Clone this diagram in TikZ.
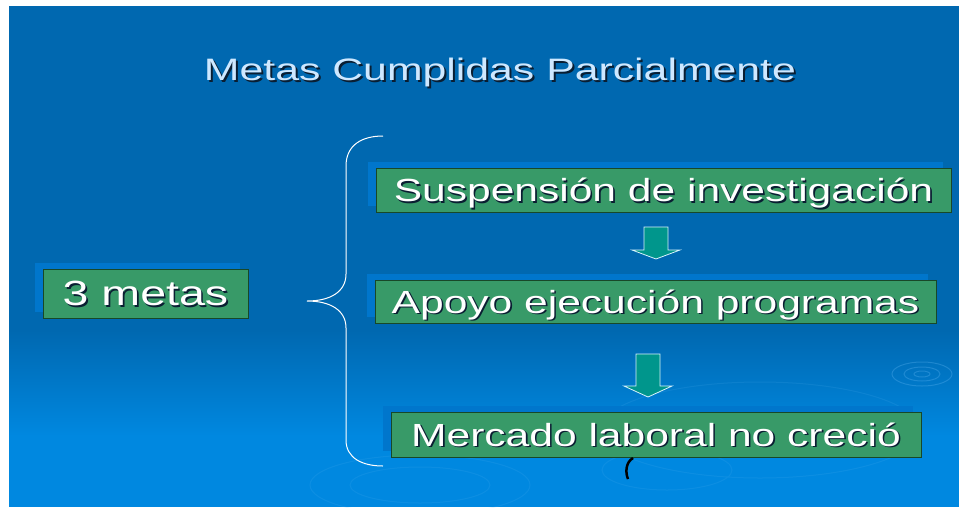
\documentclass[tikz,border=0pt]{standalone}
\usepackage{fontspec}
\usetikzlibrary{shadows}
\newfontfamily\slidefont[FakeStretch=1.33]{Liberation Sans}
\newfontfamily\slidetitlefont[FakeStretch=1.38]{Liberation Sans}
\definecolor{bgtop}{RGB}{0,104,176}
\definecolor{bgbottom}{RGB}{0,136,224}
\definecolor{boxgreen}{RGB}{56,154,104}
\definecolor{boxedge}{RGB}{24,72,40}
\definecolor{boxshade}{RGB}{0,118,204}
\definecolor{arrowteal}{RGB}{0,150,140}
\definecolor{titleblue}{RGB}{206,232,255}
\definecolor{txtshade}{RGB}{10,30,50}
\definecolor{ripplec}{RGB}{100,185,245}
\newcommand{\shtxt}[1]{\rlap{\kern1.6pt\raisebox{-1.6pt}{\color{txtshade}#1}}#1}
\tikzset{
    goal/.style = {draw = boxedge, line width = 0.9pt, fill = boxgreen, text = white,
        inner sep = 0pt, text height = 23pt, text depth = 0pt,
        font = \slidefont\fontsize{32}{38}\selectfont,
        general shadow = {draw = none, fill = boxshade, shadow xshift = -8.5pt, shadow yshift = 6.5pt}},
    blockarrow/.style = {fill = arrowteal, draw = white!85!cyan, line width = 0.8pt, line join = miter},
    brace/.style = {draw = white, line width = 1pt},
    ripple/.style = {draw = ripplec, opacity = 0.3, line width = 1pt}
}
\begin{document}
\begin{tikzpicture}[x = 1pt, y = -1pt]
    \useasboundingbox (0, 0) rectangle (959, 507);
    \fill[white] (0, 0) rectangle (959, 507);
    % background
    \fill[bgtop] (9, 6) rectangle (959, 331);
    \shade[top color = bgtop, bottom color = bgbottom] (9, 330) rectangle (959, 436);
    \fill[bgbottom] (9, 435) rectangle (959, 507);
    % ripples
    \draw[ripple] (922, 374) ellipse (30 and 12) (922, 374) ellipse (18 and 7) (922, 374) ellipse (8 and 3);
    \draw[ripple, opacity = 0.13] (667, 470) ellipse (65 and 20) (760, 430) ellipse (160 and 48)
        (420, 485) ellipse (110 and 30) (420, 485) ellipse (70 and 18);
    \draw 
        node[text = titleblue, anchor = base, font = \slidetitlefont\fontsize{31}{37}\selectfont] (title) at (500, 80)
            {\rlap{\kern2pt\raisebox{-2pt}{\color{txtshade}Metas Cumplidas Parcialmente}}Metas Cumplidas Parcialmente}
        node[goal, minimum width = 205pt, minimum height = 49pt, text height = 24.5pt,
            font = \slidefont\fontsize{35}{42}\selectfont] (metas) at (145.5, 293.5) {\shtxt{3 metas}}
        node[goal, minimum width = 575pt, minimum height = 44pt] (susp) at (663.5, 190) {\shtxt{Suspensión de investigación}}
        node[goal, minimum width = 561pt, minimum height = 43pt] (apoyo) at (655.5, 301.5) {\shtxt{Apoyo ejecución programas}}
        node[goal, minimum width = 530pt, minimum height = 45pt] (merc) at (656, 434.5) {\shtxt{Mercado laboral no creció}};
    % brace
    \coordinate (btop) at (383, 136);
    \coordinate (btip) at (307, 301);
    \coordinate (bbot) at (383, 466);
    \draw[brace] (btop) .. controls (362, 136) and (346, 145) .. (346, 166) -- (346, 274)
        .. controls (346, 292) and (330, 301) .. (btip)
        .. controls (330, 301) and (346, 310) .. (346, 328) -- (346, 440)
        .. controls (346, 458) and (362, 466) .. (bbot);
    % arrows
    \foreach \cx/\yt/\yh/\yb in {656/227/250/259, 648/354/386/397}
        \draw[blockarrow] (\cx-12, \yt) -- (\cx+12, \yt) -- (\cx+12, \yh) -- (\cx+24, \yh)
            -- (\cx, \yb) -- (\cx-24, \yh) -- (\cx-12, \yh) -- cycle;
    \draw[line width = 2.5pt, black] (633, 458) .. controls (626, 462) and (625, 472) .. (628, 479);
\end{tikzpicture}
\end{document}
